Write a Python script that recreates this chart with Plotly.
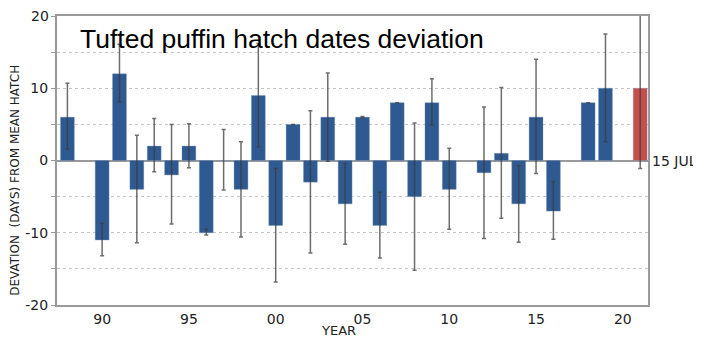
import plotly.graph_objects as go

years = [1988, 1990, 1991, 1992, 1993, 1994, 1995, 1996, 1997, 1998, 1999, 2000,
         2001, 2002, 2003, 2004, 2005, 2006, 2007, 2008, 2009, 2010, 2012, 2013,
         2014, 2015, 2016, 2018, 2019, 2021]
deviation = [6, -11, 12, -4, 2, -2, 2, -10, 0, -4, 9, -9,
             5, -3, 6, -6, 6, -9, 8, -5, 8, -4, -1.7, 1,
             -6, 6, -7, 8, 10, 10]
upper = [10.7, -8.7, 16.1, 3.5, 5.8, 5.0, 5.1, -9.5, 4.3, 2.6, 16.2, -1.1,
         None, 6.9, 12.1, -0.4, 6.1, -4.4, None, 5.2, 11.3, 1.7, 7.4, 10.1,
         -0.7, 14.0, -2.9, None, 17.5, 23.0]
lower = [1.6, -13.2, 8.1, -11.4, -1.55, -8.8, -1.0, -10.3, -4.1, -10.6, 1.9, -16.8,
         None, -12.8, -0.1, -11.6, 5.9, -13.5, None, -15.2, 4.9, -9.5, -10.8, -8.0,
         -11.3, -1.8, -10.9, None, 2.6, -1.1]
highlight_year = 2021

x_tickvals = [1990, 1995, 2000, 2005, 2010, 2015, 2020]
x_ticktext = ["90", "95", "00", "05", "10", "15", "20"]
y_tickvals = [-20, -10, 0, 10]
y_ticktext = ["-20", "-10", "0", "10"]
y_top = 20

plus = [None if u is None else u - d for u, d in zip(upper, deviation)]
minus = [None if l is None else d - l for l, d in zip(lower, deviation)]
colors = ["#c64f4e" if y == highlight_year else "#2f5a91" for y in years]

fig = go.Figure()
fig.add_trace(go.Bar(
    x=years, y=deviation, width=0.8,
    marker=dict(color=colors, line=dict(color="rgba(120,150,190,0.6)", width=0.6)),
    error_y=dict(type="data", symmetric=False, array=plus, arrayminus=minus,
                 color="rgba(60,60,60,0.75)", thickness=1.5, width=2),
    showlegend=False,
))

axis_font = dict(family="DejaVu Sans", size=14, color="#222")

fig.update_layout(
    width=693, height=331,
    margin=dict(l=49, r=53, t=6, b=34),
    paper_bgcolor="white", plot_bgcolor="white",
    xaxis=dict(
        range=[1987.4, 2021.45], tickvals=x_tickvals, ticktext=x_ticktext,
        tickfont=axis_font, showgrid=False, zeroline=False,
        showline=True, mirror=True, linecolor="#9a9a9a", linewidth=2,
        ticks="", ticklen=0,
    ),
    yaxis=dict(
        range=[-20, y_top], tickvals=y_tickvals, ticktext=y_ticktext, tickfont=axis_font,
        showgrid=True, gridcolor="#c4c4c4", griddash="dot", gridwidth=1,
        zeroline=True, zerolinecolor="#9a9a9a", zerolinewidth=2,
        showline=True, mirror=True, linecolor="#9a9a9a", linewidth=2,
        ticks="outside", ticklen=4, tickcolor="#9a9a9a",
        minor=dict(dtick=5, showgrid=True, gridcolor="#c4c4c4", griddash="dot",
                   ticks="outside", ticklen=4, tickcolor="#9a9a9a"),
    ),
    annotations=[
        dict(text=str(y_top), xref="paper", yref="y", x=0, y=y_top, xanchor="right",
             yanchor="middle", xshift=-6, showarrow=False, font=axis_font),
        dict(text="Tufted puffin hatch dates deviation", xref="paper", yref="paper",
             x=(78 - 57) / 591, y=(305 - 37) / 291, xanchor="left", yanchor="middle",
             showarrow=False, font=dict(family="Liberation Sans", size=26.5, color="black")),
        dict(text="15 JUL", xref="paper", yref="y", x=1, y=0, xanchor="left",
             yanchor="middle", xshift=2, showarrow=False,
             font=dict(family="DejaVu Sans", size=14, color="#222")),
        dict(text="DEVATION  (DAYS) FROM MEAN HATCH", xref="paper", yref="paper",
             x=(15 - 57) / 591, y=(305 - 180) / 291, xanchor="center", yanchor="middle",
             textangle=-90, showarrow=False,
             font=dict(family="DejaVu Sans", size=12, color="#222")),
        dict(text="YEAR", xref="paper", yref="paper",
             x=(338 - 57) / 591, y=(305 - 331) / 291, xanchor="center", yanchor="middle",
             showarrow=False, font=dict(family="DejaVu Sans", size=13, color="#222")),
    ],
)

fig.write_html("out.html")
